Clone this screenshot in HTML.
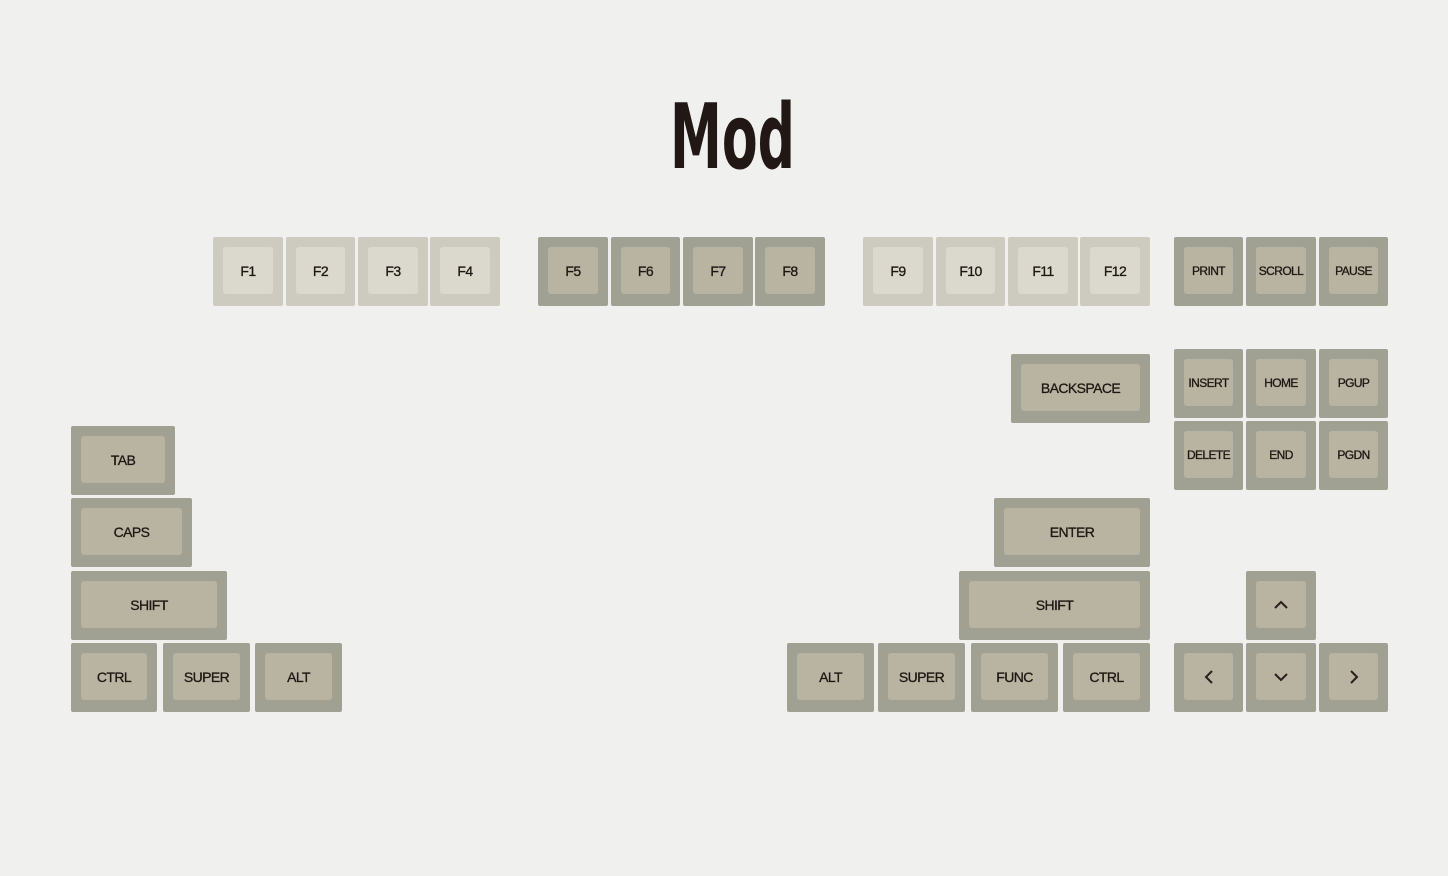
<!DOCTYPE html>
<html><head><meta charset="utf-8"><style>
html,body{margin:0;padding:0;background:#f0f0ee;}
body{width:1448px;height:876px;position:relative;overflow:hidden;font-family:"Liberation Sans",Arial,sans-serif;}
.k{position:absolute;border-radius:2px;}
.k .i{position:absolute;left:10px;right:10px;top:10px;bottom:12px;border-radius:3px;display:flex;align-items:center;justify-content:center;font-size:14px;color:#1e1612;letter-spacing:-0.6px;-webkit-text-stroke:0.3px #1e1612;}
.L{background:#cdcbbf}.L .i{background:#dbd9cd}
.D{background:#a0a193}.D .i{background:#b9b3a1}
.s .i{font-size:12px;}
svg.t{position:absolute;left:0;top:0;}
</style></head><body>
<svg class="t" width="1448" height="200"><text x="670" y="168" font-family="DejaVu Sans" font-weight="bold" font-size="90" fill="#211715" textLength="125" lengthAdjust="spacingAndGlyphs">Mod</text></svg>

<div class="k L" style="left:213px;top:237px;width:70px;height:69px"><div class="i">F1</div></div>
<div class="k L" style="left:286px;top:237px;width:69px;height:69px"><div class="i">F2</div></div>
<div class="k L" style="left:358px;top:237px;width:70px;height:69px"><div class="i">F3</div></div>
<div class="k L" style="left:430px;top:237px;width:70px;height:69px"><div class="i">F4</div></div>
<div class="k D" style="left:538px;top:237px;width:70px;height:69px"><div class="i">F5</div></div>
<div class="k D" style="left:611px;top:237px;width:69px;height:69px"><div class="i">F6</div></div>
<div class="k D" style="left:683px;top:237px;width:70px;height:69px"><div class="i">F7</div></div>
<div class="k D" style="left:755px;top:237px;width:70px;height:69px"><div class="i">F8</div></div>
<div class="k L" style="left:863px;top:237px;width:70px;height:69px"><div class="i">F9</div></div>
<div class="k L" style="left:936px;top:237px;width:69px;height:69px"><div class="i">F10</div></div>
<div class="k L" style="left:1008px;top:237px;width:70px;height:69px"><div class="i">F11</div></div>
<div class="k L" style="left:1080px;top:237px;width:70px;height:69px"><div class="i">F12</div></div>
<div class="k D s" style="left:1174px;top:237px;width:69px;height:69px"><div class="i">PRINT</div></div>
<div class="k D s" style="left:1246px;top:237px;width:70px;height:69px"><div class="i">SCROLL</div></div>
<div class="k D s" style="left:1319px;top:237px;width:69px;height:69px"><div class="i">PAUSE</div></div>

<div class="k D" style="left:1011px;top:354px;width:139px;height:69px"><div class="i">BACKSPACE</div></div>
<div class="k D s" style="left:1174px;top:349px;width:69px;height:69px"><div class="i">INSERT</div></div>
<div class="k D s" style="left:1246px;top:349px;width:70px;height:69px"><div class="i">HOME</div></div>
<div class="k D s" style="left:1319px;top:349px;width:69px;height:69px"><div class="i">PGUP</div></div>
<div class="k D s" style="left:1174px;top:421px;width:69px;height:69px"><div class="i">DELETE</div></div>
<div class="k D s" style="left:1246px;top:421px;width:70px;height:69px"><div class="i">END</div></div>
<div class="k D s" style="left:1319px;top:421px;width:69px;height:69px"><div class="i">PGDN</div></div>

<div class="k D" style="left:71px;top:426px;width:104px;height:69px"><div class="i">TAB</div></div>
<div class="k D" style="left:71px;top:498px;width:121px;height:69px"><div class="i">CAPS</div></div>
<div class="k D" style="left:994px;top:498px;width:156px;height:69px"><div class="i">ENTER</div></div>
<div class="k D" style="left:71px;top:571px;width:156px;height:69px"><div class="i">SHIFT</div></div>
<div class="k D" style="left:959px;top:571px;width:191px;height:69px"><div class="i">SHIFT</div></div>
<div class="k D" style="left:1246px;top:571px;width:70px;height:69px"><div class="i"><svg width="16" height="10"><path d="M2 8 L8 2 L14 8" stroke="#2a1f1a" stroke-width="2" fill="none"/></svg></div></div>

<div class="k D" style="left:71px;top:643px;width:86px;height:69px"><div class="i">CTRL</div></div>
<div class="k D" style="left:163px;top:643px;width:87px;height:69px"><div class="i">SUPER</div></div>
<div class="k D" style="left:255px;top:643px;width:87px;height:69px"><div class="i">ALT</div></div>
<div class="k D" style="left:787px;top:643px;width:87px;height:69px"><div class="i">ALT</div></div>
<div class="k D" style="left:878px;top:643px;width:87px;height:69px"><div class="i">SUPER</div></div>
<div class="k D" style="left:971px;top:643px;width:87px;height:69px"><div class="i">FUNC</div></div>
<div class="k D" style="left:1063px;top:643px;width:87px;height:69px"><div class="i">CTRL</div></div>
<div class="k D" style="left:1174px;top:643px;width:69px;height:69px"><div class="i"><svg width="10" height="16"><path d="M8 2 L2 8 L8 14" stroke="#2a1f1a" stroke-width="2" fill="none"/></svg></div></div>
<div class="k D" style="left:1246px;top:643px;width:70px;height:69px"><div class="i"><svg width="16" height="10"><path d="M2 2 L8 8 L14 2" stroke="#2a1f1a" stroke-width="2" fill="none"/></svg></div></div>
<div class="k D" style="left:1319px;top:643px;width:69px;height:69px"><div class="i"><svg width="10" height="16"><path d="M2 2 L8 8 L2 14" stroke="#2a1f1a" stroke-width="2" fill="none"/></svg></div></div>
</body></html>
